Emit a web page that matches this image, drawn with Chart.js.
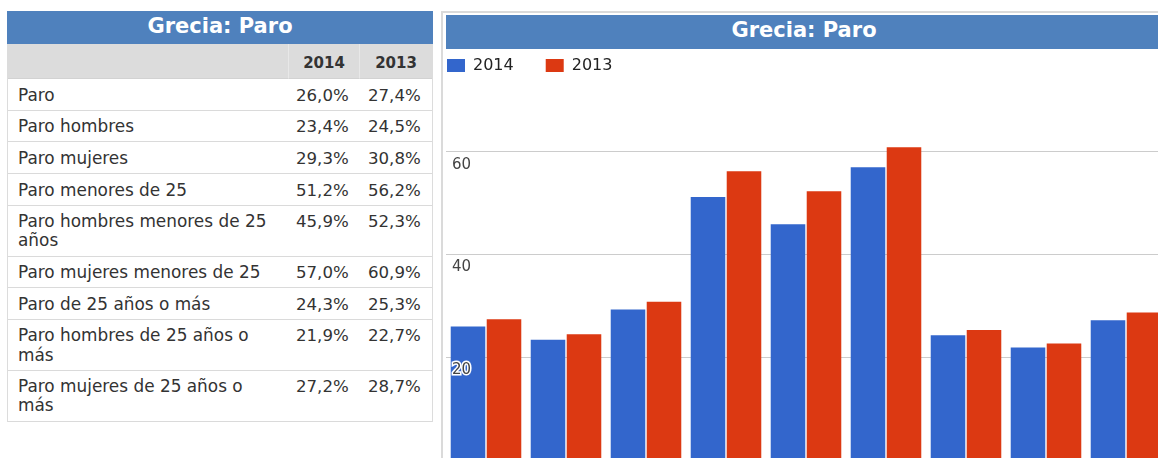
<!DOCTYPE html>
<html><head><meta charset="utf-8">
<script src="https://cdn.jsdelivr.net/npm/chart.js@4.4.1/dist/chart.umd.min.js"></script>
<style>
html,body{margin:0;padding:0;width:1158px;height:458px;overflow:hidden;background:#fff;font-family:"DejaVu Sans",sans-serif;}
#tbl{position:absolute;left:7px;top:11px;width:424px;border-left:1px solid #dcdcdc;border-right:1px solid #dcdcdc;}
.tbar{background:#4f81bd;color:#fff;font-weight:bold;font-size:21px;text-align:center;white-space:nowrap;}
#tbl .tbar{height:30px;line-height:30px;padding-bottom:3px;margin:0 -1px;}
table{border-collapse:separate;border-spacing:0;width:424px;table-layout:fixed;}
th{background:#dcdcdc;font-size:15px;font-weight:bold;color:#333;line-height:20px;padding:9px 0 5.3px;border-bottom:1px solid #d2d2d2;text-align:center;}
th+th{border-left:1px solid #e8e8e8;}
td{font-size:16.9px;line-height:19.3px;color:#333;padding:6.5px 12px 4.8px 10px;border-bottom:1px solid #dadada;vertical-align:top;}
td.n{padding-left:8px;padding-right:0;white-space:nowrap;font-size:16.6px;}
td.n2{padding-left:9px;}
#chartBox{position:absolute;left:441px;top:11px;width:800px;height:500px;border-left:2px solid #dadada;border-top:2px solid #dadada;}
#ctitle{position:absolute;left:446px;top:15px;width:716px;height:30px;line-height:30px;padding-bottom:4px;z-index:3;}
#chart{position:absolute;left:415px;top:25px;z-index:2;}
</style></head>
<body>
<div id="tbl"><div class="tbar" id="ttitle"></div><table id="data"></table></div>
<div id="chartBox"></div>
<div class="tbar" id="ctitle"></div>
<canvas id="chart" width="751" height="435"></canvas>
<script>
const chartTitle = 'Grecia: Paro';
const categories = [
  'Paro',
  'Paro hombres',
  'Paro mujeres',
  'Paro menores de 25',
  'Paro hombres menores de 25 años',
  'Paro mujeres menores de 25',
  'Paro de 25 años o más',
  'Paro hombres de 25 años o más',
  'Paro mujeres de 25 años o más'
];
const seriesNames = ['2014', '2013'];
const series2014 = [26.0, 23.4, 29.3, 51.2, 45.9, 57.0, 24.3, 21.9, 27.2];
const series2013 = [27.4, 24.5, 30.8, 56.2, 52.3, 60.9, 25.3, 22.7, 28.7];
const yTicks = [20, 40, 60];
const yMin = 0;
const yMax = 73.3;

document.getElementById('ttitle').textContent = chartTitle;
document.getElementById('ctitle').textContent = chartTitle;

const fmt = v => v.toFixed(1).replace('.', ',') + '%';
let html = '<colgroup><col style="width:280px"><col style="width:71px"><col style="width:73px"></colgroup>';
html += '<tr><th></th><th>' + seriesNames[0] + '</th><th>' + seriesNames[1] + '</th></tr>';
categories.forEach((c, i) => {
  html += '<tr><td>' + c + '</td><td class="n">' + fmt(series2014[i]) + '</td><td class="n n2">' + fmt(series2013[i]) + '</td></tr>';
});
document.getElementById('data').innerHTML = html;

new Chart(document.getElementById('chart'), {
  type: 'bar',
  data: {
    labels: categories,
    datasets: [
      { label: seriesNames[0], data: series2014, backgroundColor: '#3366cc', borderWidth: 0, barPercentage: 0.96, categoryPercentage: 0.9 },
      { label: seriesNames[1], data: series2013, backgroundColor: '#dc3912', borderWidth: 0, barPercentage: 0.96, categoryPercentage: 0.9 }
    ]
  },
  options: {
    responsive: false,
    animation: false,
    devicePixelRatio: 1,
    layout: { padding: { top: 0.5, left: 0, right: 0, bottom: 0 } },
    plugins: {
      legend: {
        position: 'top',
        align: 'start',
        labels: { boxWidth: 18, boxHeight: 13, padding: 32, color: '#222', font: { family: 'DejaVu Sans', size: 16 } }
      },
      tooltip: { enabled: false },
      title: { display: false }
    },
    scales: {
      x: { display: false },
      y: {
        min: yMin, max: yMax,
        grid: { color: '#cccccc', drawTicks: false, z: -1 },
        border: { display: false },
        ticks: {
          z: 1,
          mirror: true, padding: 6, labelOffset: 13, color: '#444',
          font: { family: 'DejaVu Sans', size: 15 },
          textStrokeColor: '#ffffff', textStrokeWidth: 3
        },
        afterBuildTicks: s => { s.ticks = yTicks.map(v => ({ value: v })); },
        afterFit: s => { s.width = 31; s.paddingTop = 0; s.paddingBottom = 0; }
      }
    }
  }
});
</script>
</body></html>
